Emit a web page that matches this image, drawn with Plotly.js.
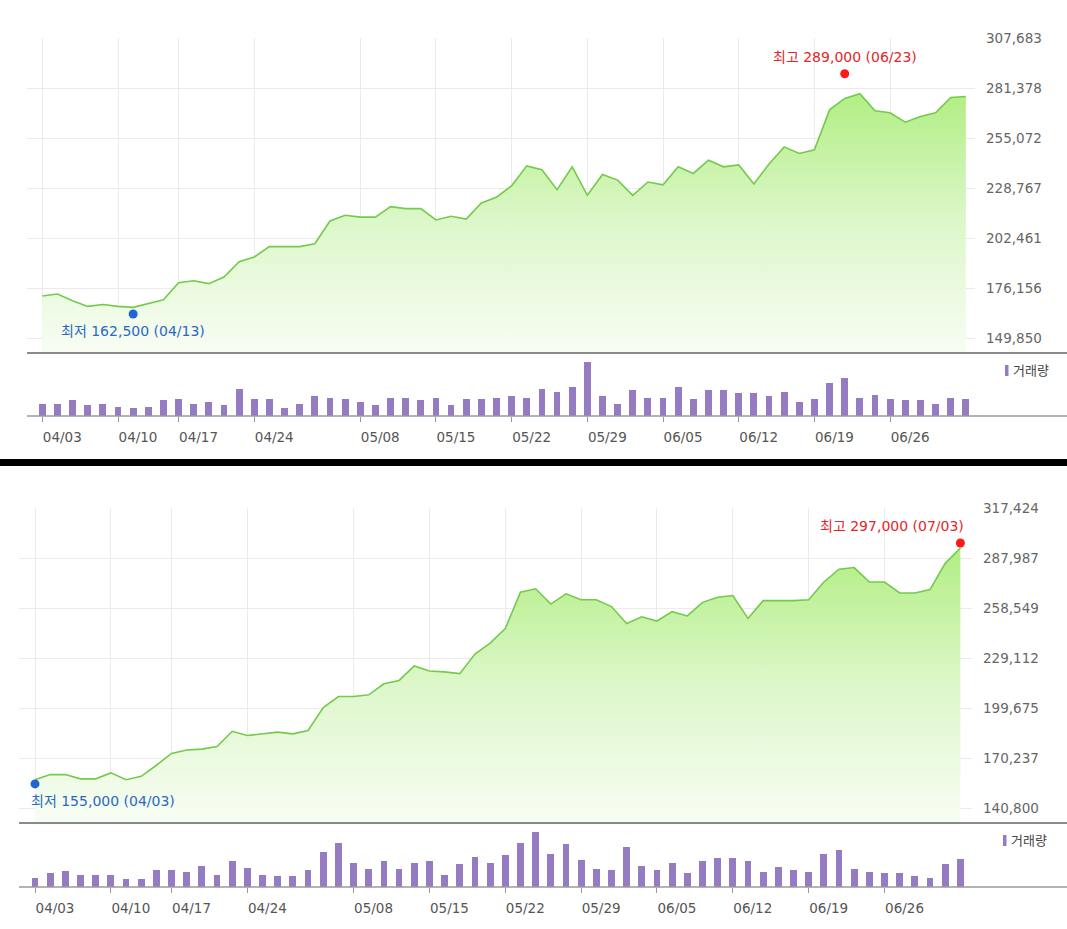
<!DOCTYPE html>
<html>
<head>
<meta charset="utf-8">
<script src="https://cdn.plot.ly/plotly-3.0.1.min.js"></script>
<style>
html,body{margin:0;padding:0;background:#fff;}
#chart{width:1067px;height:929px;}
</style>
</head>
<body>
<div id="chart"></div>
<script>
// ---------- DATA ----------
var tickIdx = [0, 5, 9, 14, 21, 26, 31, 36, 41, 46, 51, 56];
var tickLabels = ['04/03','04/10','04/17','04/24','05/08','05/15','05/22','05/29','06/05','06/12','06/19','06/26'];

// Chart 1 (upper)
var upperClose = [172000,173000,169500,166500,167500,166500,166000,168000,170000,179000,
                180000,178500,182000,190000,192500,198000,198000,198000,199500,211500,
                214500,213500,213500,219000,218000,218000,212000,214000,212500,221000,
                224000,230000,240500,238500,228000,240000,225000,236000,233000,225000,
                232000,230500,240000,236500,243500,240000,241000,231000,241500,250500,
                247000,249000,270000,276000,278500,269500,268500,263500,266500,268500,
                276500,277000];
var upperVol = [37,37,47,33,37,28,24,28,47,51,37,42,33,82,51,51,24,37,60,55,
              51,42,33,55,55,47,55,33,51,51,55,60,55,82,73,87,163,60,37,78,
              55,55,87,51,78,78,69,69,60,73,42,51,101,114,55,64,51,47,47,37,
              55,51];
var upperYTicks = [149850,176156,202461,228767,255072,281378,307683];
var upperHigh = {idx:53, val:289000, date:'06/23'};
var upperLow  = {idx:6,  val:162500, date:'04/13'};

// Chart 2 (lower)
var lowerClose = [157500,160500,160500,158000,158000,161500,157500,159500,166000,173000,
                175000,175500,177000,186000,183500,184500,185500,184500,186500,200000,
                206500,206500,207500,214000,216000,224500,221500,221000,220000,231500,
                238000,246500,268000,270000,261000,267000,263500,263500,259500,249500,
                253500,251000,256500,254000,262000,265000,266000,252500,263000,263000,
                263000,263500,274000,281500,282500,274000,274000,267500,267500,269500,
                285000,294000];
var lowerVol = [28,42,47,37,37,37,24,24,51,51,46,64,37,78,56,37,33,33,51,105,
              132,73,55,78,55,73,78,37,69,91,73,96,132,164,100,128,82,55,51,119,
              64,51,73,42,78,87,87,78,46,60,51,46,100,110,55,46,42,42,33,28,
              69,83];
var lowerYTicks = [140800,170237,199675,229112,258549,287987,317424];
var lowerHigh = {idx:61, val:297000, date:'07/03'};
var lowerLow  = {idx:0,  val:155000, date:'04/03'};

var volName = '거래량';

// ---------- LAYOUT HELPERS ----------
var W = 1067, H = 929;
function PX(p){ return p / W; }
function PY(p){ return 1 - p / H; }
function fmt(v){ return v.toLocaleString('en-US'); }
function idxArr(n){ var a=[]; for(var i=0;i<n;i++) a.push(i); return a; }

var FONT = 'DejaVu Sans, Noto Sans CJK KR, sans-serif';
var gridC = '#ebebeb';
var lineC = '#74ca4b';
var barC = '#957bc2';

// pixel geometry
var G1 = {l:27, r:975, gTop:38, gBot:338, axisY:353, baseY:416, x0px:42.3, dx:15.14};
var G2 = {l:19, r:972, gTop:508, gBot:808, axisY:823, baseY:887, x0px:35.0, dx:15.17};

function yRange(g, ticks){
  var perPx = (ticks[6]-ticks[0])/(g.gBot-g.gTop);
  return [ticks[0] - (g.axisY - g.gBot)*perPx, ticks[6] + 0.3*perPx];
}
function xRange(g){
  return [(g.l - g.x0px)/g.dx, (g.r - g.x0px)/g.dx];
}

var upYR = yRange(G1, upperYTicks), loYR = yRange(G2, lowerYTicks);
var upXR = xRange(G1), loXR = xRange(G2);

function priceTrace(close, xa, ya, yr){
  return {
    type:'scatter', mode:'lines', x: idxArr(close.length), y: close,
    xaxis: xa, yaxis: ya, hoverinfo:'skip',
    line:{color:lineC, width:1.6},
    fill:'tozeroy',
    fillgradient:{type:'vertical', start: yr[0], stop: Math.max.apply(null, close),
      colorscale:[[0,'#f8fdf4'],[0.5,'#ddf7ca'],[1,'#b2ee84']]}
  };
}
function volTrace(vol, xa, ya){
  return {type:'bar', x: idxArr(vol.length), y: vol, xaxis: xa, yaxis: ya,
    marker:{color:barC, line:{width:0}}, width:0.45, hoverinfo:'skip'};
}
function dotTrace(pt, color, xa, ya){
  return {type:'scatter', mode:'markers', x:[pt.idx], y:[pt.val], xaxis:xa, yaxis:ya,
    marker:{color:color, size:9}, cliponaxis:false, hoverinfo:'skip'};
}

var data = [
  priceTrace(upperClose,'x','y',upYR),
  volTrace(upperVol,'x2','y2'),
  dotTrace(upperHigh,'#ff1a1a','x','y'),
  dotTrace(upperLow,'#1f66d1','x','y'),
  priceTrace(lowerClose,'x3','y3',loYR),
  volTrace(lowerVol,'x4','y4'),
  dotTrace(lowerHigh,'#ff1a1a','x3','y3'),
  dotTrace(lowerLow,'#1f66d1','x3','y3')
];

function priceX(g, xr, anchor){
  return {domain:[PX(g.l),PX(g.r)], range:xr, anchor:anchor, tickvals:tickIdx,
    showticklabels:false, showgrid:true, gridcolor:gridC, gridwidth:1,
    zeroline:false, showline:false, ticks:'', fixedrange:true};
}
function priceY(g, yr, ticks, anchor){
  return {domain:[PY(g.axisY),PY(g.gTop)], range:yr, anchor:anchor, side:'right',
    tickvals:ticks, ticktext:ticks.map(fmt), showgrid:true, gridcolor:gridC, gridwidth:1,
    zeroline:false, showline:false, ticks:'', ticklabelstandoff:10,
    tickfont:{family:FONT, size:13.5, color:'#666'}, fixedrange:true};
}
function volX(g, xr, anchor){
  return {domain:[PX(g.l),PX(g.r)], range:xr, anchor:anchor, tickvals:tickIdx,
    ticktext:tickLabels, ticks:'outside', ticklen:5, tickcolor:'#999', tickwidth:1,
    showgrid:false, zeroline:false, showline:false, ticklabelshift:20, ticklabelstandoff:4,
    tickfont:{family:FONT, size:13.5, color:'#555'}, fixedrange:true};
}
function volY(g, maxV, anchor){
  return {domain:[PY(g.baseY),PY(g.axisY)], range:[0,maxV], anchor:anchor, visible:false, fixedrange:true};
}

function hline(y, xl, color, w){
  return {type:'line', xref:'paper', yref:'paper', x0:PX(xl), x1:1, y0:PY(y), y1:PY(y),
    line:{color:color, width:w}};
}
function rect(x0,x1,y0,y1,color){
  return {type:'rect', xref:'paper', yref:'paper', x0:PX(x0), x1:PX(x1), y0:PY(y1), y1:PY(y0),
    fillcolor:color, line:{width:0}};
}

var shapes = [
  hline(G1.axisY, G1.l, '#8a8a8a', 2),
  hline(G1.baseY, G1.l, '#9a9a9a', 1.5),
  rect(0, W, 459, 466, '#000'),
  hline(G2.axisY, G2.l, '#8a8a8a', 2),
  hline(G2.baseY, G2.l, '#9a9a9a', 1.5),
  rect(1005, 1008.5, 365, 376, barC),
  rect(1003, 1006.5, 835, 846, barC)
];

function label(pt, kind, xa, ya, color, xanchor, xshift, yshift){
  return {x:pt.idx, y:pt.val, xref:xa, yref:ya, showarrow:false,
    text: kind + ' ' + fmt(pt.val) + ' (' + pt.date + ')',
    xanchor:xanchor, yanchor:'middle', xshift:xshift, yshift:yshift,
    font:{family:FONT, size:14, color:color}};
}

var annotations = [
  label(upperHigh,'최고','x','y','#e3262b','center',0,17),
  label(upperLow,'최저','x','y','#2a68c4','center',0,-17),
  label(lowerHigh,'최고','x3','y3','#e3262b','right',6,17),
  label(lowerLow,'최저','x3','y3','#2a68c4','left',-6,-17),
  {x:PX(1011), y:PY(370.5), xref:'paper', yref:'paper', showarrow:false, xanchor:'left', yanchor:'middle',
    text:volName, font:{family:FONT, size:13, color:'#444'}},
  {x:PX(1009), y:PY(840.5), xref:'paper', yref:'paper', showarrow:false, xanchor:'left', yanchor:'middle',
    text:volName, font:{family:FONT, size:13, color:'#444'}}
];

var layout = {
  width:W, height:H, margin:{l:0,r:0,t:0,b:0}, showlegend:false,
  paper_bgcolor:'#fff', plot_bgcolor:'rgba(0,0,0,0)',
  font:{family:FONT},
  bargap:0,
  xaxis: priceX(G1, upXR, 'y'),
  yaxis: priceY(G1, upYR, upperYTicks, 'x'),
  xaxis2: volX(G1, upXR, 'y2'),
  yaxis2: volY(G1, 190, 'x2'),
  xaxis3: priceX(G2, loXR, 'y3'),
  yaxis3: priceY(G2, loYR, lowerYTicks, 'x3'),
  xaxis4: volX(G2, loXR, 'y4'),
  yaxis4: volY(G2, 192, 'x4'),
  shapes: shapes,
  annotations: annotations
};

Plotly.newPlot('chart', data, layout, {displayModeBar:false, staticPlot:true});
</script>
</body>
</html>
